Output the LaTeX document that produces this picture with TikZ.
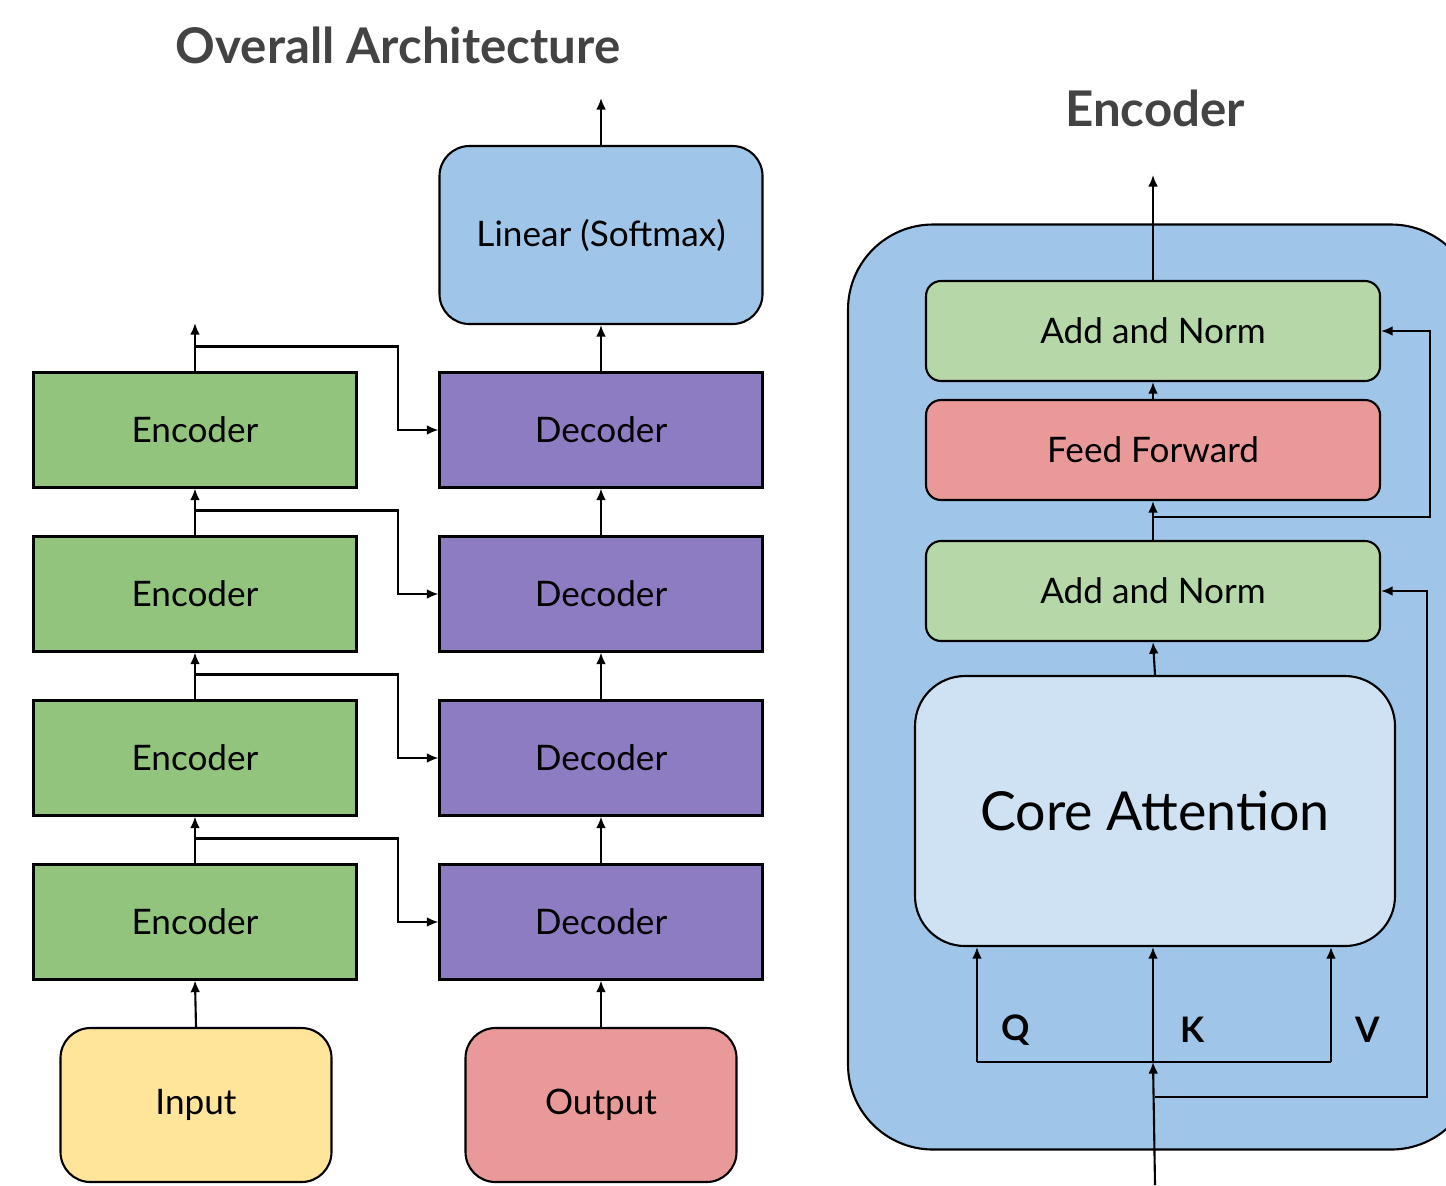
\documentclass[tikz,border=0pt]{standalone}
\usepackage{fontspec}
\setmainfont{Lato}
\definecolor{linblue}{HTML}{9FC5E8}
\definecolor{encgreen}{HTML}{93C47D}
\definecolor{decpurple}{HTML}{8E7CC3}
\definecolor{inyellow}{HTML}{FFE599}
\definecolor{outred}{HTML}{EA9999}
\definecolor{normgreen}{HTML}{B6D7A8}
\definecolor{coreblue}{HTML}{CFE2F3}
\definecolor{titlegray}{HTML}{434343}
\usetikzlibrary{arrows.meta,positioning,calc}

\begin{document}
\begin{tikzpicture}[x=0.1mm, y=-0.1mm,
  title/.style={font=\fontsize{14}{17}\selectfont\bfseries, text=titlegray},
  sbox/.style={rectangle, draw=black, line width=0.6pt,
               minimum width=3.23cm, minimum height=1.15cm,
               font=\fontsize{10}{12}\selectfont},
  rbox/.style={rectangle, rounded corners=0.3cm, draw=black, line width=0.6pt,
               minimum width=2.71cm, minimum height=1.54cm,
               font=\fontsize{10}{12}\selectfont},
  lbox/.style={rectangle, rounded corners=0.15cm, draw=black, line width=0.6pt,
               minimum width=4.54cm, minimum height=1.0cm,
               font=\fontsize{10}{12}\selectfont},
  qkv/.style={font=\fontsize{10}{12}\selectfont\bfseries},
  farr/.style={-{Latex[length=3.3pt,width=2.8pt]}, line width=0.6pt},
  wire/.style={line width=0.6pt}
]
\clip (0,0) rectangle (1446,1185);

% Titles
\node[title] (tall) at (398,45)  {Overall Architecture};
\node[title] (tenc) at (1155,108) {Encoder};

% Encoder / decoder stacks
\foreach \i/\y in {1/922,2/758,3/594,4/430} {
  \node[sbox, fill=encgreen]  (enc\i) at (195,\y) {Encoder};
  \node[sbox, fill=decpurple] (dec\i) at (601,\y) {Decoder};
}
\node[rbox, fill=linblue, minimum width=3.23cm, minimum height=1.78cm] (lin) at (601,235) {Linear (Softmax)};
\node[rbox, fill=inyellow] (in)  at (196,1105) {Input};
\node[rbox, fill=outred]   (out) at (601,1105) {Output};

\coordinate (encout) at (195,323);
\coordinate (linout) at (601,98);

% Arrows, left side
\draw[farr] (in.north) -- (enc1.south);
\draw[farr] (out.north) -- (dec1.south);
\foreach \i/\j in {1/2,2/3,3/4} {
  \draw[farr] (enc\i.north) -- (enc\j.south);
  \draw[farr] (dec\i.north) -- (dec\j.south);
}
\draw[farr] (enc4.north) -- (encout);
\draw[farr] (dec4.north) -- (lin.south);
\draw[farr] (lin.north) -- (linout);
\foreach \i in {1,...,4}
  \draw[farr] (enc\i.north) ++(0,-25) -- ++(203,0) |- (dec\i.west);

% Encoder block
\node[rectangle, rounded corners=0.85cm, draw=black, line width=0.6pt, fill=linblue,
      minimum width=6.28cm, minimum height=9.25cm] (blk) at (1162,687) {};
\node[lbox, fill=normgreen] (an1) at (1153,331) {Add and Norm};
\node[lbox, fill=outred]    (ff)  at (1153,450) {Feed Forward};
\node[lbox, fill=normgreen] (an2) at (1153,591) {Add and Norm};
\node[rectangle, rounded corners=0.5cm, draw=black, line width=0.6pt, fill=coreblue,
      minimum width=4.8cm, minimum height=2.7cm,
      font=\fontsize{15.3}{18}\selectfont] (core) at (1155,811) {Core Attention};

\node[qkv] (lq) at (1016,1030) {Q};
\node[qkv] (lk) at (1193,1030) {K};
\node[qkv] (lv) at (1368,1030) {V};

\coordinate (q)   at (977,1062);
\coordinate (k)   at (1153,1062);
\coordinate (v)   at (1331,1062);
\coordinate (src) at (1155,1185);
\coordinate (blkout) at (1153,175);

% Arrows, encoder block
\draw[farr] (an1.north) -- (blkout);
\draw[farr] (ff.north) -- (an1.south);
\draw[farr] (an2.north) -- (ff.south);
\draw[farr] (an2.north) ++(0,-23) -- ++(277,0) |- (an1.east);
\draw[farr] (core.north) -- (an2.south);
\draw[wire] (q) -- (v);
\draw[farr] (q) -- (q |- core.south);
\draw[farr] (k) -- (k |- core.south);
\draw[farr] (v) -- (v |- core.south);
\draw[farr] (src) -- (k);
\draw[farr] (src) ++(0,-88) -- ++(272,0) |- (an2.east);
\end{tikzpicture}
\end{document}
